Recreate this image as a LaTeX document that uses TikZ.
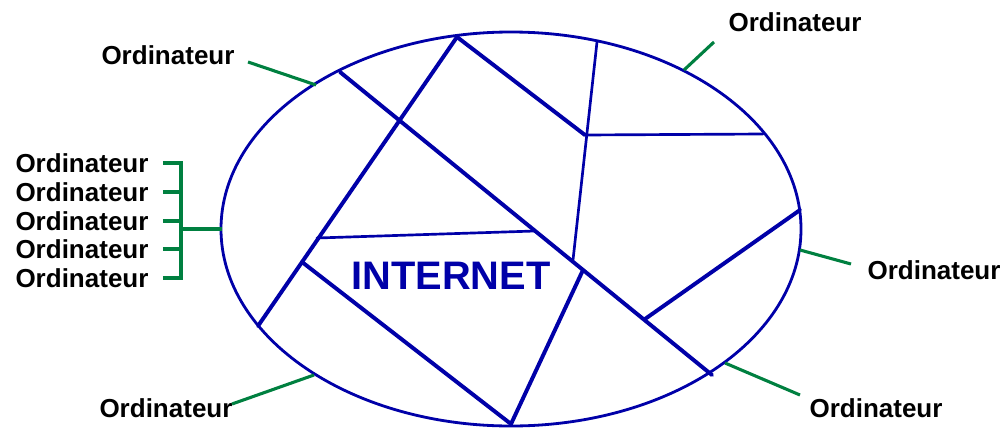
\documentclass[tikz,border=0pt]{standalone}
\usepackage{fontspec}
\setmainfont{Liberation Sans}
\usetikzlibrary{calc}
\definecolor{netBlue}{RGB}{0,0,168}
\definecolor{linkGreen}{RGB}{0,128,64}

\begin{document}
\begin{tikzpicture}[x=0.025cm, y=-0.025cm,
    pc/.style={font=\fontsize{18.5}{20}\selectfont\bfseries, inner sep=0pt},
    wire/.style={draw=netBlue, line width=2.8pt, line cap=round},
    fine/.style={draw=netBlue, line width=1.9pt, line cap=round},
    link/.style={draw=linkGreen, line width=2.2pt}
  ]
  \useasboundingbox (0,0) rectangle (1007,429);

  % the network
  \draw[netBlue, line width=2pt] (511,229) ellipse [x radius=290, y radius=197];
  \coordinate (p1) at (340,72);
  \coordinate (p2) at (712,375);
  \coordinate (top) at (457,37);
  \coordinate (lft) at (258,326);
  \coordinate (mid) at (585,135);
  \coordinate (up) at (597,42);
  \coordinate (dn) at (573,260);
  \coordinate (rgt) at (763,134);
  \coordinate (h1) at (317,238);
  \coordinate (h2) at (535,231);
  \coordinate (s1) at (302,262);
  \coordinate (s2) at (583,270);
  \coordinate (bot) at (511,424);
  \coordinate (s3) at (645,319);
  \coordinate (far) at (800,210);
  \foreach \a/\b in {p1/p2, top/lft, top/mid, s1/bot, s2/bot, s3/far}
    \draw[wire] (\a) -- (\b);
  \foreach \a/\b in {up/dn, mid/rgt, h1/h2}
    \draw[fine] (\a) -- (\b);
  \node[font=\fontsize{28.3}{30}\selectfont\bfseries, text=netBlue, inner sep=0pt]
    (net) at (451,276) {INTERNET};

  % computers
  \node[pc] (tl) at (168,55) {Ordinateur};
  \node[pc] (tr) at (795,22) {Ordinateur};
  \node[pc] (rt) at (934,270) {Ordinateur};
  \node[pc] (br) at (876,408) {Ordinateur};
  \node[pc] (bl) at (166,408) {Ordinateur};
  \foreach \i/\y in {1/163, 2/192, 3/221, 4/249, 5/278}
    \node[pc] (o\i) at (82,\y) {Ordinateur};

  \coordinate (e1) at (316,85);
  \coordinate (e2) at (684,70);
  \coordinate (e3) at (800,250);
  \coordinate (e4) at (725,363);
  \coordinate (e5) at (314,375);
  \coordinate (e0) at (222,229);
  \coordinate (c1) at (248,62);
  \coordinate (c2) at (714,42);
  \coordinate (c3) at (851,264);
  \coordinate (c4) at (800,395);
  \coordinate (c5) at (232,404);
  \coordinate (hub) at (181,229);
  \foreach \a/\b in {c1/e1, c2/e2, c3/e3, c4/e4, c5/e5, hub/e0}
    \draw[link] (\a) -- (\b);
  \foreach \i in {1,...,5}
    \draw[link] ([xshift=0.35cm]o\i.east) -| (hub);
\end{tikzpicture}
\end{document}
